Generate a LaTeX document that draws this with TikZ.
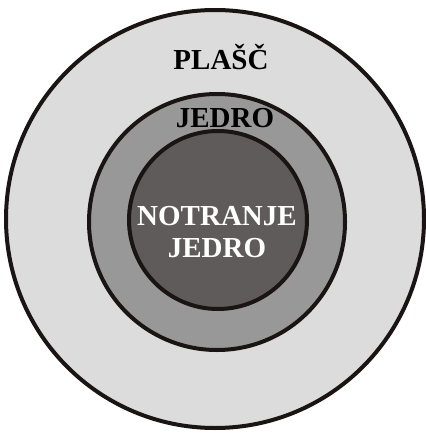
\documentclass[tikz,border=0pt]{standalone}
\usepackage{fontspec}
\setmainfont{Liberation Serif}

\definecolor{plasc}{HTML}{DCDCDC}
\definecolor{jedro}{HTML}{999898}
\definecolor{notranje}{HTML}{5F5B5B}
\definecolor{rob}{HTML}{1A1414}

\begin{document}
\begin{tikzpicture}[x=1pt,y=-1pt,
  font=\fontsize{29}{32}\selectfont\bfseries,
  every node/.style={inner sep=0pt},
  layer/.style={draw=rob,line width=4pt}]
\path[use as bounding box] (0,0) rectangle (425,433);

\filldraw[layer,fill=plasc] (215,219) circle (209);
\filldraw[layer,fill=jedro] (217,222) circle (128);
\filldraw[layer,fill=notranje] (218,220) circle (89);

\node (plasc) at (221,57) {PLAŠČ};
\node (jedro) at (225,118) {JEDRO};
\node[text=white,align=center] (notranje) at (217,232)
  {NOTRANJE\\JEDRO};
\end{tikzpicture}
\end{document}
